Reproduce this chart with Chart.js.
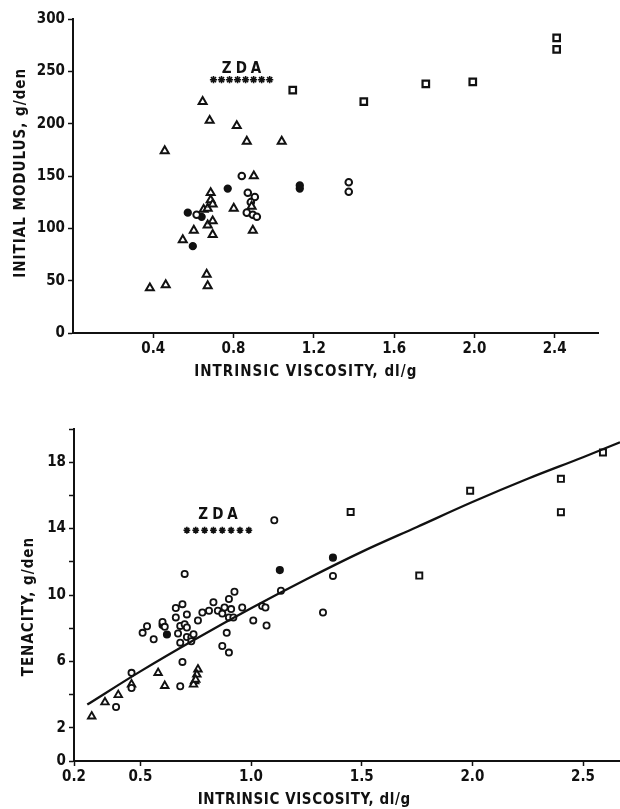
<!DOCTYPE html>
<html>
<head>
<meta charset="utf-8">
<script src="https://cdn.jsdelivr.net/npm/chart.js@4/dist/chart.umd.min.js"></script>
<style>
  html, body { margin: 0; padding: 0; background: #fff; }
  body { width: 620px; height: 809px; position: relative; overflow: hidden; }
  canvas { position: absolute; left: 0; }
  #modulus { top: 0; }
  #tenacity { top: 400px; }
</style>
</head>
<body>
<canvas id="modulus" width="620" height="400"></canvas>
<canvas id="tenacity" width="620" height="409"></canvas>
<script>
// ---------- Initial modulus vs intrinsic viscosity ----------
const modTriangles = [
  [0.383, 43], [0.462, 46], [0.457, 174], [0.547, 89], [0.602, 98],
  [0.651, 118], [0.671, 119], [0.686, 134], [0.686, 127], [0.696, 123],
  [0.671, 103], [0.696, 107], [0.696, 94], [0.666, 56], [0.671, 45],
  [0.646, 221], [0.681, 203], [0.816, 198], [0.866, 183], [1.04, 183],
  [0.901, 150], [0.801, 119], [0.89, 121], [0.896, 98]
];
const modOpenCircles = [
  [0.841, 150], [0.871, 134], [0.906, 130], [0.886, 125], [0.866, 115],
  [0.896, 113], [0.916, 111], [0.616, 113], [1.374, 144], [1.374, 135]
];
const modFilledCircles = [
  [0.771, 138], [1.13, 138], [1.13, 141], [0.572, 115], [0.597, 83], [0.641, 111]
];
const modSquares = [
  [1.095, 232], [1.449, 221], [1.758, 238], [1.992, 240], [2.41, 282], [2.41, 271]
];
const modZdaStarsX = [0.70, 0.74, 0.78, 0.82, 0.86, 0.90, 0.94, 0.98];
const modZdaY = 242;
const modXTicks = [0.4, 0.8, 1.2, 1.6, 2.0, 2.4];
const modYTicks = [0, 50, 100, 150, 200, 250, 300];

// ---------- Tenacity vs intrinsic viscosity ----------
const tenOpenCircles = [
  [0.39, 3.25], [0.46, 5.31], [0.46, 4.40], [0.51, 7.72], [0.53, 8.12],
  [0.56, 7.33], [0.60, 8.38], [0.61, 8.08], [0.66, 9.22], [0.69, 9.45],
  [0.66, 8.65], [0.71, 8.83], [0.68, 8.14], [0.70, 8.24], [0.71, 8.04],
  [0.67, 7.68], [0.71, 7.47], [0.73, 7.44], [0.74, 7.64], [0.68, 7.13],
  [0.73, 7.21], [0.69, 5.97], [0.68, 4.50], [0.76, 8.46], [0.78, 8.95],
  [0.81, 9.05], [0.83, 9.56], [0.85, 9.05], [0.88, 9.25], [0.91, 9.15],
  [0.90, 8.65], [0.92, 8.65], [0.90, 9.76], [0.87, 8.88], [0.96, 9.25],
  [0.925, 10.2], [0.89, 7.72], [0.87, 6.93], [0.90, 6.53], [1.01, 8.47],
  [1.05, 9.33], [1.065, 9.25], [1.07, 8.16], [1.135, 10.26], [0.70, 11.27],
  [1.105, 14.5], [1.37, 11.15], [1.325, 8.95]
];
const tenFilledCircles = [
  [0.62, 7.62], [0.60, 8.2], [1.13, 11.5], [1.37, 12.25]
];
const tenTriangles = [
  [0.28, 2.69], [0.34, 3.54], [0.40, 3.98], [0.46, 4.62], [0.58, 5.31],
  [0.61, 4.53], [0.76, 5.52], [0.755, 5.21], [0.745, 4.81], [0.74, 4.61],
  [0.75, 4.90]
];
const tenSquares = [
  [1.45, 15.0], [1.99, 16.28], [2.40, 17.0], [2.40, 14.99], [2.59, 18.59], [1.76, 11.17]
];
const tenCurveX = [0.26, 0.5, 0.75, 1.0, 1.25, 1.5, 1.75, 2.0, 2.25, 2.5, 2.667];
const tenCurveY = [3.4, 5.4, 7.35, 9.2, 10.95, 12.6, 14.1, 15.6, 17.0, 18.3, 19.2];
const tenZdaStarsX = [0.71, 0.75, 0.79, 0.83, 0.87, 0.91, 0.95, 0.99];
const tenZdaY = 13.9;
const tenXTicks = [0.2, 0.5, 1.0, 1.5, 2.0, 2.5];
const tenYLabelled = [0, 2, 6, 10, 14, 18];

const INK = '#111';
const TICK_FONT = { family: '"DejaVu Sans Condensed", "DejaVu Sans", sans-serif', size: 15, weight: 'bold' };
const TITLE_FONT = 'bold 15px "DejaVu Sans Condensed", "DejaVu Sans", sans-serif';

const pts = arr => arr.map(([x, y]) => ({ x, y }));

// Axis titles and the "ZDA" caption, placed through the chart's scales
const captions = {
  id: 'captions',
  afterDraw(chart, args, o) {
    const { ctx, chartArea: a, scales: { x, y } } = chart;
    ctx.save();
    ctx.fillStyle = INK;
    ctx.font = TITLE_FONT;
    ctx.textAlign = 'center';
    ctx.textBaseline = 'middle';
    if (ctx.letterSpacing !== undefined) ctx.letterSpacing = o.xTitleSpacing;
    ctx.fillText(o.xTitle, x.getPixelForValue(o.xTitleAt), a.bottom + 39);
    if (ctx.letterSpacing !== undefined) ctx.letterSpacing = '1px';
    ctx.save();
    ctx.translate(o.yTitleLeft, y.getPixelForValue(o.yTitleAt));
    ctx.rotate(-Math.PI / 2);
    ctx.fillText(o.yTitle, 0, 0);
    ctx.restore();
    if (ctx.letterSpacing !== undefined) ctx.letterSpacing = '4px';
    ctx.fillText('ZDA', x.getPixelForValue(o.zdaX), y.getPixelForValue(o.zdaY));
    ctx.restore();
  }
};

function axis(extra) {
  return Object.assign({
    border: { display: true, color: INK, width: 2 },
    grid: { display: true, drawOnChartArea: false, drawTicks: true, tickLength: 5, tickWidth: 1.5, tickColor: INK },
  }, extra);
}

const marker = (style, radius, filled, bw) => ({
  pointStyle: style,
  pointRadius: radius,
  pointBorderWidth: bw,
  pointBorderColor: INK,
  pointBackgroundColor: filled ? INK : '#fff',
  showLine: false
});

// ---------- Chart 1 ----------
new Chart(document.getElementById('modulus'), {
  type: 'scatter',
  data: {
    datasets: [
      Object.assign({ data: pts(modTriangles) }, marker('triangle', 4.6, false, 2)),
      Object.assign({ data: pts(modOpenCircles) }, marker('circle', 3.3, false, 2)),
      Object.assign({ data: pts(modFilledCircles) }, marker('circle', 3.4, true, 1.5)),
      Object.assign({ data: pts(modSquares) }, marker('rect', 4.6, false, 2.2)),
      Object.assign({ data: modZdaStarsX.map(x => ({ x, y: modZdaY })) }, marker('star', 3.6, false, 1.6))
    ]
  },
  plugins: [captions],
  options: {
    responsive: false,
    animation: false,
    devicePixelRatio: 1,
    layout: { autoPadding: false, padding: { top: 19, right: 22, left: 0, bottom: 0 } },
    plugins: {
      legend: { display: false },
      tooltip: { enabled: false },
      captions: {
        xTitle: 'INTRINSIC VISCOSITY, dl/g', xTitleAt: 1.16, xTitleSpacing: '1px',
        yTitle: 'INITIAL MODULUS, g/den', yTitleAt: 153, yTitleLeft: 21,
        zdaX: 0.85, zdaY: 252
      }
    },
    scales: {
      x: axis({
        type: 'linear', min: 0, max: 2.616,
        afterBuildTicks: s => { s.ticks = modXTicks.map(v => ({ value: v })); },
        afterFit: s => { s.height = 67; s.paddingLeft = 0; s.paddingRight = 0; },
        ticks: { color: INK, font: TICK_FONT, padding: 2, maxRotation: 0, autoSkip: false, callback: v => v.toFixed(1) }
      }),
      y: axis({
        type: 'linear', min: 0, max: 300,
        afterBuildTicks: s => { s.ticks = modYTicks.map(v => ({ value: v })); },
        afterFit: s => { s.width = 73; s.paddingTop = 0; s.paddingBottom = 0; },
        ticks: { color: INK, font: TICK_FONT, padding: 3, autoSkip: false }
      })
    }
  }
});

// ---------- Chart 2 ----------
new Chart(document.getElementById('tenacity'), {
  type: 'scatter',
  data: {
    datasets: [
      {
        data: tenCurveX.map((x, i) => ({ x, y: tenCurveY[i] })),
        showLine: true, borderColor: INK, borderWidth: 2.3, pointRadius: 0,
        cubicInterpolationMode: 'monotone', fill: false
      },
      Object.assign({ data: pts(tenOpenCircles) }, marker('circle', 3.1, false, 1.8)),
      Object.assign({ data: pts(tenFilledCircles) }, marker('circle', 3.3, true, 1.5)),
      Object.assign({ data: pts(tenTriangles) }, marker('triangle', 4.3, false, 1.9)),
      Object.assign({ data: pts(tenSquares) }, marker('rect', 4.3, false, 1.9)),
      Object.assign({ data: tenZdaStarsX.map(x => ({ x, y: tenZdaY })) }, marker('star', 3.4, false, 1.6))
    ]
  },
  plugins: [captions],
  options: {
    responsive: false,
    animation: false,
    devicePixelRatio: 1,
    layout: { autoPadding: false, padding: { top: 29, right: 0, left: 0, bottom: 0 } },
    plugins: {
      legend: { display: false },
      tooltip: { enabled: false },
      captions: {
        xTitle: 'INTRINSIC VISCOSITY, dl/g', xTitleAt: 1.24, xTitleSpacing: '0.6px',
        yTitle: 'TENACITY, g/den', yTitleAt: 9.3, yTitleLeft: 29,
        zdaX: 0.86, zdaY: 14.8
      }
    },
    scales: {
      x: axis({
        type: 'linear', min: 0.2, max: 2.667,
        afterBuildTicks: s => { s.ticks = tenXTicks.map(v => ({ value: v })); },
        afterFit: s => { s.height = 48; s.paddingLeft = 0; s.paddingRight = 0; },
        ticks: { color: INK, font: TICK_FONT, padding: 2, maxRotation: 0, autoSkip: false, callback: v => v.toFixed(1) }
      }),
      y: axis({
        type: 'linear', min: 0, max: 20,
        ticks: {
          color: INK, font: TICK_FONT, padding: 3, stepSize: 2, autoSkip: false,
          callback: v => tenYLabelled.includes(v) ? String(v) : ''
        },
        afterFit: s => { s.width = 74; s.paddingTop = 0; s.paddingBottom = 0; }
      })
    }
  }
});
</script>
</body>
</html>
